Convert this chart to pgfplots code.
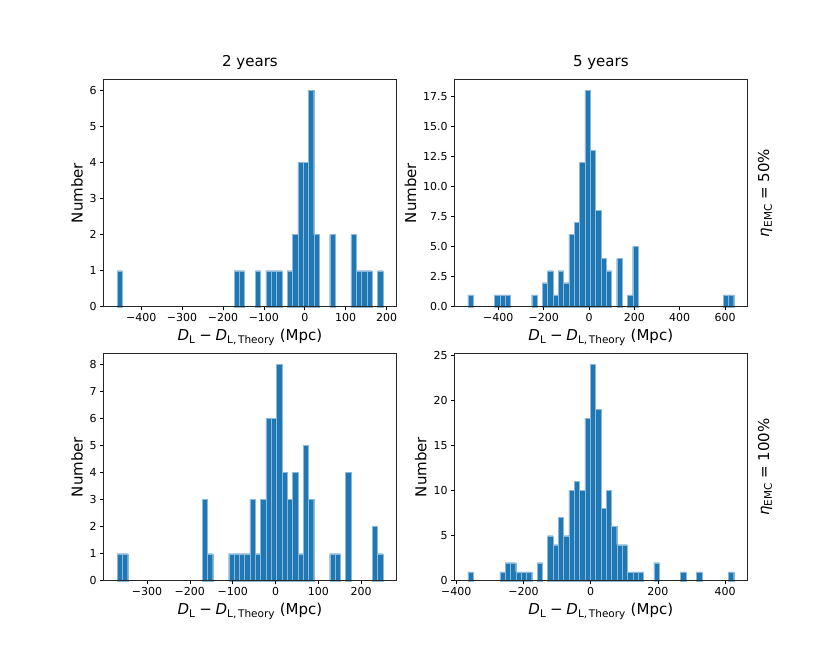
\documentclass[border=0pt]{standalone}
\usepackage{fontspec}
\setmainfont{DejaVu Sans}
\usepackage{pgfplots}
\pgfplotsset{compat=1.18}

\definecolor{tabblue}{RGB}{31,119,180}
\definecolor{edgeblue}{RGB}{140,184,218}

\pgfplotsset{
  histo/.style={
    scale only axis,
    width=292.4pt, height=227.5pt,
    axis on top,
    tick align=outside,
    xtick pos=left, ytick pos=left,
    major tick length=3.5pt,
    tick style={black, line width=0.6pt},
    axis line style={line width=0.6pt, black!85},
    ymin=0,
    ticklabel style={font=\fontsize{11}{13}\selectfont},
    label style={font=\fontsize{15}{18}\selectfont},
    title style={font=\fontsize{15}{18}\selectfont},
    ylabel={Number},
    xlabel={\textit{D}\textsubscript{L}\hspace{0.25em}−\hspace{0.25em}\textit{D}\textsubscript{L,\,Theory} (Mpc)},
    /pgf/number format/assume math mode=true,
    clip=false,
  },
  hbar/.style={ybar, bar width=#1, bar shift=0pt, fill=tabblue, draw=edgeblue, line width=0.3pt},
}

\newcommand{\etalabel}[1]{\textit{η}\textsubscript{EMC}\hspace{0.3em}=\hspace{0.3em}#1\%}

\begin{document}
\begin{tikzpicture}
\path (0,0) rectangle (830pt,664pt);

% 2 years, eta = 50%
\begin{axis}[histo,
  at={(103.75pt,584.7pt)}, anchor=north west,
  title={2 years},
  xmin=-491.5, xmax=223.5, ymax=6.3,
  xtick={-400,-300,-200,-100,0,100,200},
  xticklabels={−400,−300,−200,−100,0,100,200},
  ytick={0,1,2,3,4,5,6},
  yticklabels={0,1,2,3,4,5,6},
]
\addplot[hbar=13] coordinates {
  (-452.5,1) (-166.5,1) (-153.5,1) (-114.5,1) (-88.5,1) (-75.5,1) (-62.5,1)
  (-36.5,1) (-23.5,2) (-10.5,4) (2.5,4) (15.5,6) (28.5,2) (67.5,2)
  (119.5,2) (132.5,1) (145.5,1) (158.5,1) (184.5,1)
};
\end{axis}

% 5 years, eta = 50%
\begin{axis}[histo,
  at={(454.6pt,584.7pt)}, anchor=north west,
  title={5 years},
  xmin=-592.9, xmax=697, ymax=18.9,
  xtick={-400,-200,0,200,400,600},
  xticklabels={−400,−200,0,200,400,600},
  ytick={0,2.5,5,7.5,10,12.5,15,17.5},
  yticklabels={0.0,2.5,5.0,7.5,10.0,12.5,15.0,17.5},
]
\addplot[hbar=23.45] coordinates {
  (-522.6,1) (-405.4,1) (-381.9,1) (-358.5,1) (-241.2,1) (-194.3,2)
  (-170.9,3) (-147.4,1) (-124.0,3) (-100.5,2) (-77.1,6) (-53.6,7)
  (-30.2,12) (-6.7,18) (16.8,13) (40.2,8) (63.7,4) (87.1,3)
  (134.0,4) (180.9,1) (204.4,5) (603.0,1) (626.5,1)
};
\node[rotate=90, font=\fontsize{15}{18}\selectfont] at ([xshift=18pt]rel axis cs:1,0.5) {\etalabel{50}};
\end{axis}

% 2 years, eta = 100%
\begin{axis}[histo,
  at={(103.75pt,310.7pt)}, anchor=north west,
  xmin=-401, xmax=281.6, ymax=8.4,
  xtick={-300,-200,-100,0,100,200},
  xticklabels={−300,−200,−100,0,100,200},
  ytick={0,1,2,3,4,5,6,7,8},
  yticklabels={0,1,2,3,4,5,6,7,8},
]
\addplot[hbar=12.41] coordinates {
  (-363.8,1) (-351.4,1) (-165.2,3) (-152.8,1) (-103.2,1) (-90.8,1)
  (-78.4,1) (-66.0,1) (-53.5,3) (-41.1,1) (-28.7,3) (-16.3,6) (-3.9,6)
  (8.5,8) (20.9,4) (33.3,3) (45.7,4) (58.1,1) (70.6,5) (83.0,3)
  (132.6,1) (145.0,1) (169.8,4) (231.9,2) (244.3,1)
};
\end{axis}

% 5 years, eta = 100%
\begin{axis}[histo,
  at={(454.6pt,310.7pt)}, anchor=north west,
  xmin=-405, xmax=465.1, ymax=25.2,
  xtick={-400,-200,0,200,400},
  xticklabels={−400,−200,0,200,400},
  ytick={0,5,10,15,20,25},
  yticklabels={0,5,10,15,20,25},
]
\addplot[hbar=15.82] coordinates {
  (-357.6,1) (-262.7,1) (-246.9,2) (-231.0,2) (-215.2,1) (-199.4,1)
  (-183.6,1) (-151.9,2) (-120.3,5) (-104.5,4) (-88.7,7) (-72.8,5)
  (-57.0,10) (-41.2,11) (-25.4,10) (-9.6,18) (6.3,24) (22.1,19)
  (37.9,8) (53.7,10) (69.5,6) (85.4,4) (101.2,4) (117.0,1)
  (132.8,1) (148.6,1) (196.1,2) (275.2,1) (322.7,1) (417.6,1)
};
\node[rotate=90, font=\fontsize{15}{18}\selectfont] at ([xshift=18pt]rel axis cs:1,0.5) {\etalabel{100}};
\end{axis}
\end{tikzpicture}
\end{document}
